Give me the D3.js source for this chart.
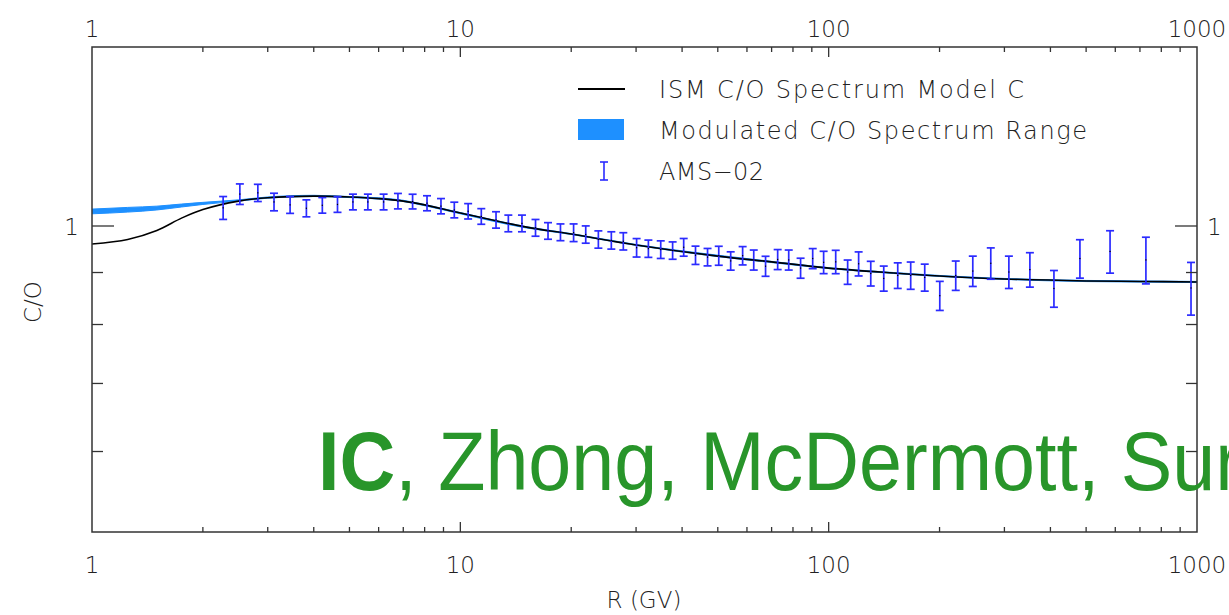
<!DOCTYPE html>
<html>
<head>
<meta charset="utf-8">
<script src="https://cdn.jsdelivr.net/npm/d3@7"></script>
<style>
  body { margin: 0; background: #fff; }
  svg { display: block; }
  text { font-family: "DejaVu Sans", sans-serif; fill: #222; }
</style>
</head>
<body>
<svg width="1229" height="615"></svg>
<script>
// ISM model curve (Model C) and modulated band, R in GV
var modelR   = [1, 1.25, 1.5, 1.75, 2, 2.5, 3, 4, 5, 6, 7, 8, 10, 15, 20, 30, 50, 70, 100, 150, 200, 300, 500, 700, 1000];
var modelCO  = [0.960, 0.970, 0.990, 1.018, 1.038, 1.058, 1.066, 1.070, 1.068, 1.064, 1.058, 1.049, 1.030, 0.998, 0.982, 0.958, 0.934, 0.922, 0.909, 0.899, 0.893, 0.887, 0.883, 0.882, 0.881];
var bandLow  = [1.028, 1.032, 1.037, 1.044, 1.050, 1.058, 1.065, 1.069, 1.0665, 1.063, 1.057, 1.047, 1.028, 0.996, 0.981, 0.957, 0.933, 0.9205, 0.908, 0.898, 0.892, 0.886, 0.8817, 0.8807, 0.8797];
var bandHigh = [1.039, 1.043, 1.046, 1.051, 1.055, 1.061, 1.068, 1.072, 1.069, 1.066, 1.060, 1.050, 1.031, 0.999, 0.983, 0.959, 0.936, 0.923, 0.910, 0.900, 0.894, 0.888, 0.884, 0.883, 0.882];

// AMS-02 C/O points
var amsR = [2.27, 2.52, 2.82, 3.12, 3.45, 3.82, 4.22, 4.64, 5.11, 5.61, 6.19, 6.77, 7.42, 8.12, 8.86, 9.63,
  10.5, 11.4, 12.5, 13.5, 14.7, 16.0, 17.3, 18.7, 20.3, 21.9, 23.7, 25.7, 27.7, 30.1, 32.4, 35.0, 37.7, 40.4,
  43.5, 46.9, 50.3, 54.2, 58.4, 62.6, 67.4, 72.7, 77.9, 83.9, 90.5, 96.9, 104.5, 112.6, 120.6, 130.1, 141.1,
  154.0, 167.0, 182.3, 200.3, 221.3, 246.2, 275.5, 308.5, 351.8, 408.9, 481.0, 580.7, 726.6, 963.3];
var amsCO = [1.042, 1.075, 1.078, 1.056, 1.049, 1.041, 1.048, 1.050, 1.056, 1.056, 1.056, 1.058, 1.057, 1.053, 1.046, 1.037,
  1.034, 1.022, 1.014, 1.006, 1.006, 0.996, 0.989, 0.986, 0.985, 0.981, 0.970, 0.968, 0.966, 0.952, 0.950, 0.948, 0.946, 0.953,
  0.936, 0.932, 0.935, 0.924, 0.935, 0.926, 0.913, 0.927, 0.926, 0.909, 0.929, 0.921, 0.922, 0.901, 0.918, 0.898, 0.888,
  0.894, 0.894, 0.890, 0.854, 0.894, 0.903, 0.919, 0.901, 0.906, 0.868, 0.929, 0.944, 0.926, 0.869];
var amsErr = [0.027, 0.025, 0.021, 0.021, 0.020, 0.020, 0.0185, 0.0186, 0.0188, 0.0188, 0.0188, 0.0185, 0.0176, 0.0179, 0.0181, 0.0184,
  0.018, 0.0181, 0.0188, 0.019, 0.019, 0.0189, 0.0186, 0.0187, 0.0197, 0.0192, 0.019, 0.019, 0.0189, 0.0199, 0.0186, 0.0189, 0.0186, 0.0191,
  0.0194, 0.0184, 0.0201, 0.0192, 0.0194, 0.021, 0.0207, 0.021, 0.021, 0.0206, 0.0211, 0.0233, 0.0244, 0.0248, 0.025, 0.0251, 0.0252,
  0.0259, 0.0276, 0.0272, 0.0281, 0.0297, 0.031, 0.0326, 0.033, 0.0353, 0.0361, 0.0404, 0.0453, 0.0489, 0.0518];

var xTickLabels = ["1", "10", "100", "1000"];
var yMinor = [0.6, 0.7, 0.8, 0.9];
var legendItems = ["ISM C/O Spectrum Model C", "Modulated C/O Spectrum Range", "AMS\u221202"];

var svg = d3.select("svg");
var pLeft = 92, pRight = 1197, pTop = 47, pBottom = 532;

var x = d3.scaleLog().domain([1, 1000]).range([pLeft, pRight]);
var y = d3.scaleLog().domain([0.5, 1.5]).range([pBottom, pTop]);

svg.append("clipPath").attr("id", "plotclip")
  .append("rect").attr("x", pLeft).attr("y", pTop).attr("width", pRight - pLeft).attr("height", pBottom - pTop);

var plot = svg.append("g").attr("clip-path", "url(#plotclip)");

// band
var band = modelR.map(function(r, i){ return {r: r, lo: bandLow[i], hi: bandHigh[i]}; });
plot.append("path")
  .datum(band)
  .attr("fill", "#1e90ff")
  .attr("stroke", "#1e90ff")
  .attr("stroke-width", 1)
  .attr("d", d3.area()
    .x(function(d){ return x(d.r); })
    .y0(function(d){ return y(d.lo); })
    .y1(function(d){ return y(d.hi); })
    .curve(d3.curveMonotoneX));

// model line
plot.append("path")
  .datum(modelR.map(function(r, i){ return {r: r, v: modelCO[i]}; }))
  .attr("fill", "none")
  .attr("stroke", "#000")
  .attr("stroke-width", 1.6)
  .attr("d", d3.line()
    .x(function(d){ return x(d.r); })
    .y(function(d){ return y(d.v); })
    .curve(d3.curveCatmullRom.alpha(0.5)));

// AMS-02 error bars
var ams = amsR.map(function(r, i){ return {r: r, v: amsCO[i], e: amsErr[i]}; });
var eb = plot.selectAll(".eb").data(ams).enter().append("g").attr("class", "eb")
  .attr("stroke", "#2b2bff").attr("stroke-width", 1.7);
eb.append("line")
  .attr("x1", function(d){ return x(d.r); }).attr("x2", function(d){ return x(d.r); })
  .attr("y1", function(d){ return y(d.v - d.e); }).attr("y2", function(d){ return y(d.v + d.e); });
eb.append("line")
  .attr("x1", function(d){ return x(d.r) - 4; }).attr("x2", function(d){ return x(d.r) + 4; })
  .attr("y1", function(d){ return y(d.v - d.e); }).attr("y2", function(d){ return y(d.v - d.e); });
eb.append("line")
  .attr("x1", function(d){ return x(d.r) - 4; }).attr("x2", function(d){ return x(d.r) + 4; })
  .attr("y1", function(d){ return y(d.v + d.e); }).attr("y2", function(d){ return y(d.v + d.e); });
plot.selectAll(".dot").data(ams).enter().append("rect")
  .attr("x", function(d){ return x(d.r) - 0.6; })
  .attr("y", function(d){ return y(d.v) - 0.6; })
  .attr("width", 1.2).attr("height", 1.2).attr("fill", "#000");

// frame
svg.append("rect")
  .attr("x", pLeft).attr("y", pTop).attr("width", pRight - pLeft).attr("height", pBottom - pTop)
  .attr("fill", "none").attr("stroke", "#333").attr("stroke-width", 1.5);

// x ticks (inward), top and bottom
var majors = [10, 100];
var minors = x.ticks().filter(function(t){ return [1, 10, 100, 1000].indexOf(t) < 0; });
var tickStroke = "#333";
[[pBottom, -1], [pTop, 1]].forEach(function(s){
  svg.selectAll(null).data(majors).enter().append("line")
    .attr("x1", function(d){ return x(d); }).attr("x2", function(d){ return x(d); })
    .attr("y1", s[0]).attr("y2", s[0] + s[1] * 10)
    .attr("stroke", tickStroke).attr("stroke-width", 1.3);
  svg.selectAll(null).data(minors).enter().append("line")
    .attr("x1", function(d){ return x(d); }).attr("x2", function(d){ return x(d); })
    .attr("y1", s[0]).attr("y2", s[0] + s[1] * 5)
    .attr("stroke", tickStroke).attr("stroke-width", 1.3);
});

// y ticks (inward), left and right
[[pLeft, 1], [pRight, -1]].forEach(function(s){
  svg.append("line")
    .attr("x1", s[0]).attr("x2", s[0] + s[1] * 22)
    .attr("y1", y(1)).attr("y2", y(1))
    .attr("stroke", tickStroke).attr("stroke-width", 1.3);
  svg.selectAll(null).data(yMinor).enter().append("line")
    .attr("x1", s[0]).attr("x2", s[0] + s[1] * 11)
    .attr("y1", function(d){ return y(d); }).attr("y2", function(d){ return y(d); })
    .attr("stroke", tickStroke).attr("stroke-width", 1.3);
});

// tick labels
var labelVals = [1, 10, 100, 1000];
svg.selectAll(null).data(labelVals).enter().append("text")
  .attr("x", function(d){ return x(d); }).attr("y", 37)
  .attr("text-anchor", "middle").style("font-size", "23px").style("font-weight", 300)
  .text(function(d, i){ return xTickLabels[i]; });
svg.selectAll(null).data(labelVals).enter().append("text")
  .attr("x", function(d){ return x(d); }).attr("y", 573)
  .attr("text-anchor", "middle").style("font-size", "23px").style("font-weight", 300)
  .text(function(d, i){ return xTickLabels[i]; });
svg.append("text").attr("x", 79).attr("y", y(1) + 9).attr("text-anchor", "end")
  .style("font-size", "23px").style("font-weight", 300).text("1");
svg.append("text").attr("x", 1207).attr("y", y(1) + 9).attr("text-anchor", "start")
  .style("font-size", "23px").style("font-weight", 300).text("1");

// axis titles
svg.append("text").attr("x", 644).attr("y", 608).attr("text-anchor", "middle")
  .style("font-size", "23px").style("font-weight", 300).text("R (GV)");
svg.append("text").attr("transform", "translate(41,302) rotate(-90)").attr("text-anchor", "middle")
  .style("font-size", "23px").style("font-weight", 300).text("C/O");

// legend
var legY = [89, 130, 171];
svg.append("line").attr("x1", 578).attr("x2", 625).attr("y1", legY[0]).attr("y2", legY[0])
  .attr("stroke", "#000").attr("stroke-width", 1.8);
svg.append("rect").attr("x", 578).attr("y", legY[1] - 11).attr("width", 46).attr("height", 21)
  .attr("fill", "#1e90ff");
var lg = svg.append("g").attr("stroke", "#2b2bff").attr("stroke-width", 1.6);
lg.append("line").attr("x1", 604).attr("x2", 604).attr("y1", legY[2] - 9).attr("y2", legY[2] + 9);
lg.append("line").attr("x1", 600).attr("x2", 608).attr("y1", legY[2] - 9).attr("y2", legY[2] - 9);
lg.append("line").attr("x1", 600).attr("x2", 608).attr("y1", legY[2] + 9).attr("y2", legY[2] + 9);
var legLen = [365, 428, 105];
svg.selectAll(".leg").data(legendItems).enter().append("text")
  .attr("x", 659).attr("y", function(d, i){ return legY[i] + 9; })
  .attr("textLength", function(d, i){ return legLen[i]; })
  .attr("lengthAdjust", "spacing")
  .style("font-size", "24px").style("font-weight", 300)
  .text(function(d){ return d; });

// author note (runs off the right edge, as in the original slide)
var note = svg.append("text")
  .attr("transform", "translate(318,490) scale(0.92,1)")
  .style("font-family", "'Liberation Sans', Arial, sans-serif")
  .style("font-size", "84px").style("fill", "#28952a");
note.append("tspan").style("font-weight", "bold").style("fill", "#28952a").text("IC");
note.append("tspan").style("fill", "#28952a").text(", Zhong, McDermott, Surdutovich");
</script>
</body>
</html>
